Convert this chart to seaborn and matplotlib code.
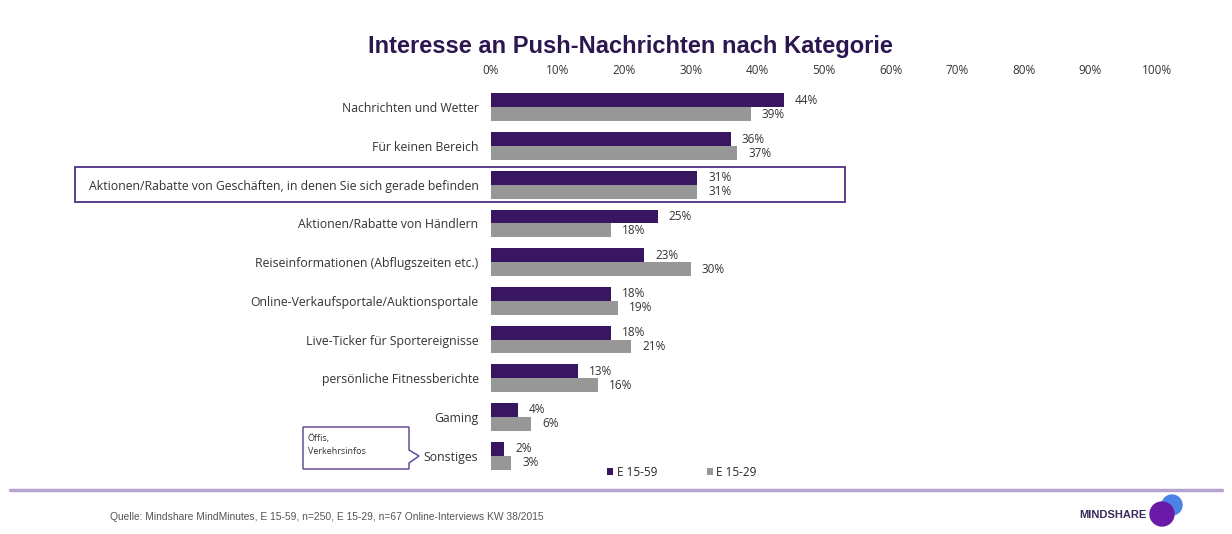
import pandas as pd
import seaborn as sns
import matplotlib.pyplot as plt
from matplotlib.patches import Rectangle, Polygon, Ellipse
from matplotlib.lines import Line2D
from matplotlib.transforms import blended_transform_factory

# --- Data ---
categories = [
    'Nachrichten und Wetter',
    'Für keinen Bereich',
    'Aktionen/Rabatte von Geschäften, in denen Sie sich gerade befinden',
    'Aktionen/Rabatte von Händlern',
    'Reiseinformationen (Abflugszeiten etc.)',
    'Online-Verkaufsportale/Auktionsportale',
    'Live-Ticker für Sportereignisse',
    'persönliche Fitnessberichte',
    'Gaming',
    'Sonstiges',
]
e_15_59 = [44, 36, 31, 25, 23, 18, 18, 13, 4, 2]
e_15_29 = [39, 37, 31, 18, 30, 19, 21, 16, 6, 3]
series_names = ['E 15-59', 'E 15-29']
x_ticks = list(range(0, 101, 10))
tick_labels = [f'{t}%' for t in x_ticks]

title = 'Interesse an Push-Nachrichten nach Kategorie'
source = 'Quelle: Mindshare MindMinutes, E 15-59, n=250, E 15-29, n=67 Online-Interviews KW 38/2015'

df = pd.DataFrame({
    'Kategorie': categories * 2,
    'Gruppe': [series_names[0]] * len(categories) + [series_names[1]] * len(categories),
    'Wert': e_15_59 + e_15_29,
})

PURPLE = '#381660'
GRAY = '#979797'
TEXT = '#333333'

sns.set_theme(style='white')
plt.rcParams['font.family'] = ['Open Sans', 'DejaVu Sans']

W, H = 1232, 534
fig = plt.figure(figsize=(W / 100, H / 100), dpi=100)


def px(x, y):
    # pixel position (from top-left) -> figure fraction
    return x / W, 1 - y / H


ax = fig.add_axes([491 / W, 1 - 475 / H, 666 / W, 387 / H])

sns.barplot(data=df, y='Kategorie', x='Wert', hue='Gruppe', order=categories,
            hue_order=series_names, palette=[PURPLE, GRAY], width=0.72,
            saturation=1, errorbar=None, orient='h', linewidth=0, ax=ax)

# value labels
for container, vals in zip(ax.containers, [e_15_59, e_15_29]):
    ax.bar_label(container, labels=[f'{v}%' for v in vals], padding=8,
                 fontsize=8.5, color=TEXT)

ax.set_xlim(0, 100)
ax.set_ylim(9.5, -0.5)
ax.xaxis.tick_top()
ax.set_xticks(x_ticks)
ax.set_xticklabels(tick_labels)
ax.tick_params(axis='x', length=0, pad=8, labelsize=8.5, labelcolor=TEXT)
ax.tick_params(axis='y', length=0, pad=9, labelsize=8.8, labelcolor=TEXT)
ax.set_xlabel('')
ax.set_ylabel('')
sns.despine(ax=ax, left=True, bottom=True, top=True, right=True)

# legend below the bars
sns.move_legend(ax, 'center', bbox_to_anchor=px(682, 472), bbox_transform=fig.transFigure,
                ncol=2, frameon=False, title=None, fontsize=8.5,
                handlelength=0.5, handleheight=0.5, handletextpad=0.3, columnspacing=4.2)

# highlight box around third category
tr = blended_transform_factory(fig.transFigure, ax.transData)
ax.add_patch(Rectangle((75 / W, 2 - 0.45), (845 - 75) / W, 0.9, transform=tr,
                       fill=False, edgecolor='#5b3d8c', lw=1.4, clip_on=False))

# callout box "Öffis, Verkehrsinfos"
callout = [(303, 427), (409, 427), (409, 450), (419, 456), (409, 463), (409, 469), (303, 469)]
fig.add_artist(Polygon([px(x, y) for x, y in callout], closed=True, fill=False,
                       edgecolor='#5b3d8c', lw=1.0, transform=fig.transFigure))
fig.text(*px(308, 439), 'Öffis,', fontsize=6.5, color=TEXT, ha='left', va='center')
fig.text(*px(308, 451), 'Verkehrsinfos', fontsize=6.5, color=TEXT, ha='left', va='center')

# title
fig.text(*px(630, 46), title, ha='center', va='center', fontsize=17, fontweight='bold',
         color='#2b1650', family=['Liberation Sans', 'DejaVu Sans'])

# footer line, source and logo
fig.add_artist(Line2D([10 / W, 1222 / W], [1 - 490 / H] * 2, color='#b6a3d0', lw=2.5,
                      transform=fig.transFigure))
fig.text(*px(110, 517), source, ha='left', va='center', fontsize=7.4, color='#555555',
         family=['Liberation Sans', 'DejaVu Sans'])
fig.text(*px(1113, 515), 'MINDSHARE', ha='center', va='center', fontsize=8, fontweight='bold',
         color='#3a2a5a', family=['Liberation Sans', 'DejaVu Sans'])
cx, cy = px(1172, 505)
fig.add_artist(Ellipse((cx, cy), 20 / W, 20 / H, color='#4b84e6', transform=fig.transFigure))
cx, cy = px(1162, 514)
fig.add_artist(Ellipse((cx, cy), 24 / W, 24 / H, color='#6a1aa6', transform=fig.transFigure))

fig.savefig('out.png', dpi=100, facecolor='white')
